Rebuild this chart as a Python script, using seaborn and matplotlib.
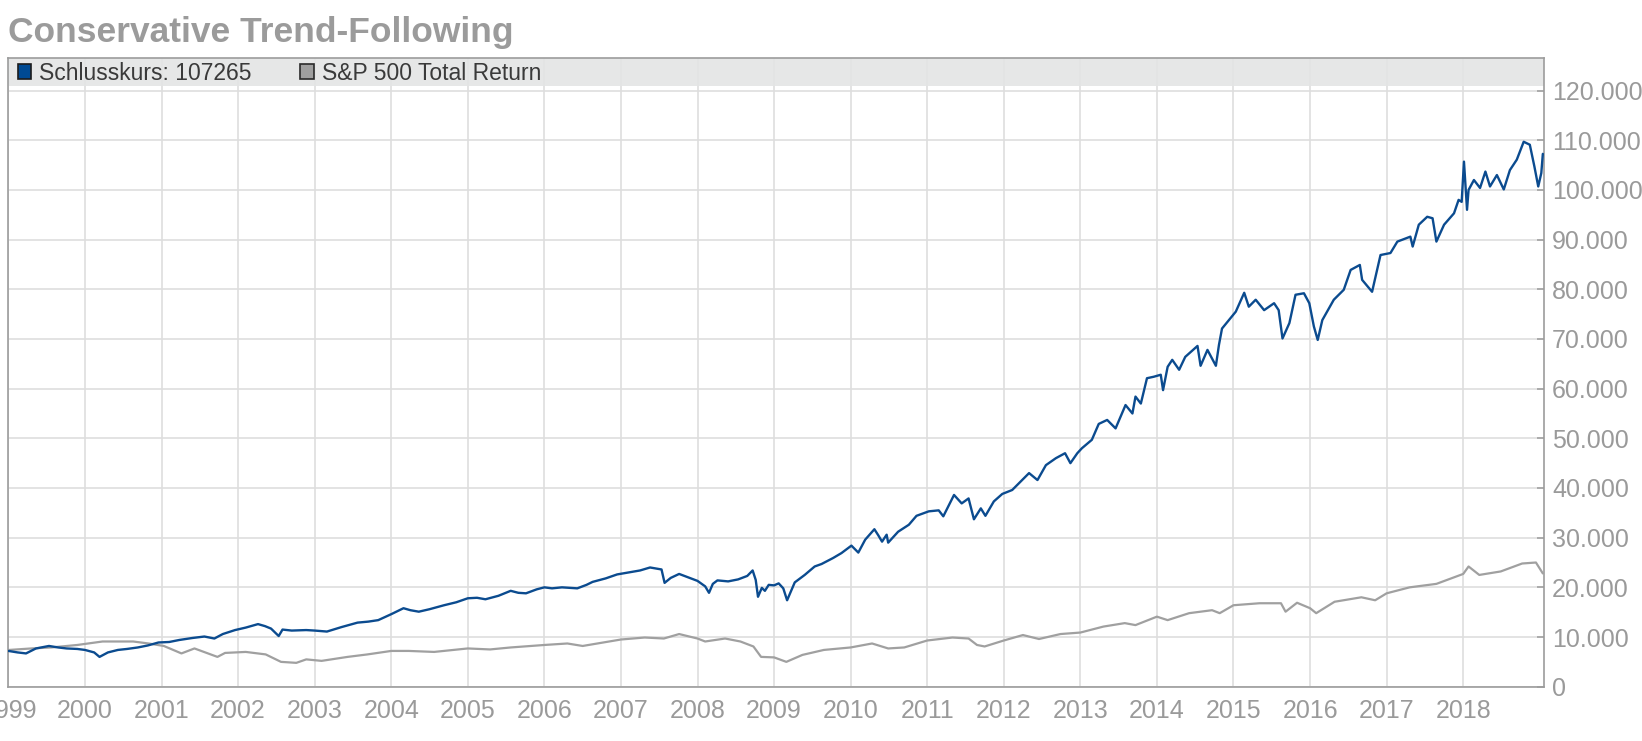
import matplotlib
matplotlib.use("Agg")
import matplotlib.pyplot as plt
import matplotlib.patches as mpatches
from matplotlib.ticker import FuncFormatter, FixedLocator
import seaborn as sns
import pandas as pd

# ---------------- data (values in thousands, x in decimal years) ----------------
blue_x = [1999.00, 1999.12, 1999.23, 1999.36, 1999.53, 1999.65, 1999.76, 1999.90,
          2000.00, 2000.12, 2000.19, 2000.30, 2000.43, 2000.55, 2000.69, 2000.82, 2000.96,
          2001.10, 2001.23, 2001.40, 2001.56, 2001.69, 2001.80, 2001.96,
          2002.10, 2002.26, 2002.35, 2002.43, 2002.53, 2002.58, 2002.70, 2002.89,
          2003.00, 2003.16, 2003.35, 2003.56, 2003.70, 2003.83,
          2004.00, 2004.16, 2004.25, 2004.36, 2004.50, 2004.69, 2004.85,
          2005.00, 2005.12, 2005.23, 2005.40, 2005.56, 2005.66, 2005.76, 2005.90,
          2006.00, 2006.10, 2006.23, 2006.43, 2006.55, 2006.63, 2006.80, 2006.95,
          2007.10, 2007.25, 2007.38, 2007.53, 2007.57, 2007.65, 2007.76, 2007.88,
          2008.00, 2008.10, 2008.15, 2008.20, 2008.26, 2008.40, 2008.53, 2008.65, 2008.72,
          2008.76, 2008.79, 2008.84, 2008.88, 2008.93,
          2009.00, 2009.06, 2009.12, 2009.17, 2009.27, 2009.40, 2009.53, 2009.62, 2009.77, 2009.88,
          2010.01, 2010.10, 2010.19, 2010.31, 2010.36, 2010.41, 2010.47, 2010.49, 2010.62, 2010.76, 2010.86,
          2011.02, 2011.15, 2011.21, 2011.35, 2011.45, 2011.54, 2011.61, 2011.70, 2011.76, 2011.87, 2011.98,
          2012.11, 2012.22, 2012.33, 2012.44, 2012.55, 2012.68, 2012.80, 2012.87, 2012.96,
          2013.02, 2013.15, 2013.24, 2013.35, 2013.46, 2013.59, 2013.68, 2013.72, 2013.79, 2013.87, 2013.96,
          2014.05, 2014.08, 2014.14, 2014.20, 2014.29, 2014.37, 2014.53, 2014.57, 2014.66, 2014.77,
          2014.81, 2014.85, 2014.94,
          2015.03, 2015.14, 2015.20, 2015.29, 2015.40, 2015.53, 2015.59, 2015.64, 2015.73, 2015.81,
          2015.92, 2015.99,
          2016.05, 2016.10, 2016.16, 2016.31, 2016.44, 2016.53, 2016.65, 2016.68, 2016.81, 2016.92,
          2017.05, 2017.14, 2017.31, 2017.34, 2017.42, 2017.53, 2017.60, 2017.65, 2017.75, 2017.88,
          2017.94, 2017.98,
          2018.01, 2018.05, 2018.07, 2018.14, 2018.22, 2018.29, 2018.35, 2018.44, 2018.53, 2018.61,
          2018.70, 2018.79, 2018.87, 2018.93, 2018.98, 2019.02, 2019.04]
blue_y = [7.2, 6.9, 6.7, 7.7, 8.2, 7.9, 7.7, 7.6,
          7.4, 6.9, 6.0, 6.9, 7.4, 7.6, 7.9, 8.3, 8.9,
          9.0, 9.4, 9.8, 10.1, 9.7, 10.6, 11.4,
          11.9, 12.6, 12.2, 11.7, 10.2, 11.5, 11.3, 11.4,
          11.3, 11.1, 12.0, 12.9, 13.1, 13.4,
          14.6, 15.8, 15.4, 15.1, 15.6, 16.4, 17.0,
          17.8, 17.9, 17.6, 18.3, 19.3, 18.9, 18.8, 19.6,
          20.0, 19.8, 20.0, 19.8, 20.5, 21.1, 21.8, 22.6,
          23.0, 23.4, 24.0, 23.6, 20.9, 21.9, 22.7, 22.0,
          21.3, 20.2, 18.9, 20.7, 21.4, 21.2, 21.6, 22.3, 23.4,
          21.5, 18.1, 19.9, 19.3, 20.5,
          20.4, 20.8, 19.8, 17.4, 21.0, 22.5, 24.2, 24.7, 25.9, 26.9,
          28.4, 27.0, 29.6, 31.7, 30.5, 29.2, 30.6, 29.0, 31.2, 32.6, 34.4,
          35.3, 35.5, 34.3, 38.6, 36.9, 37.9, 33.7, 35.9, 34.4, 37.3, 38.8,
          39.6, 41.3, 43.0, 41.6, 44.6, 46.0, 47.0, 45.0, 47.0,
          48.0, 49.7, 52.9, 53.7, 52.0, 56.7, 55.0, 58.4, 57.0, 62.1, 62.4,
          62.8, 59.7, 64.4, 65.8, 63.8, 66.4, 68.6, 64.6, 67.8, 64.6,
          68.8, 72.1, 73.8,
          75.5, 79.3, 76.5, 77.9, 75.8, 77.2, 75.8, 70.1, 73.2, 78.9,
          79.2, 77.2,
          72.5, 69.8, 73.8, 77.9, 79.9, 83.9, 84.9, 81.9, 79.5, 86.9,
          87.3, 89.6, 90.6, 88.6, 93.0, 94.6, 94.3, 89.6, 93.0, 95.3,
          98.0, 97.6,
          105.7, 96.0, 100.0, 102.0, 100.4, 103.7, 100.7, 103.0, 100.1, 104.0,
          106.1, 109.7, 109.1, 104.7, 100.7, 103.4, 107.265]

gray_x = [1999.01, 1999.30, 1999.56, 1999.90, 2000.23, 2000.63, 2000.83, 2001.03, 2001.26, 2001.43,
          2001.73, 2001.83, 2002.10, 2002.36, 2002.56, 2002.76, 2002.89, 2003.09, 2003.43, 2003.69,
          2004.00, 2004.23, 2004.56, 2005.00, 2005.29, 2005.56, 2006.00, 2006.30, 2006.50, 2007.00,
          2007.31, 2007.56, 2007.76, 2008.00, 2008.10, 2008.36, 2008.56, 2008.73, 2008.83, 2009.00,
          2009.16, 2009.37, 2009.65, 2010.00, 2010.28, 2010.49, 2010.70, 2011.00, 2011.33, 2011.54,
          2011.65, 2011.75, 2012.00, 2012.25, 2012.46, 2012.74, 2013.00, 2013.30, 2013.58, 2013.72,
          2014.00, 2014.14, 2014.42, 2014.72, 2014.82, 2015.00, 2015.34, 2015.62, 2015.68, 2015.83,
          2016.00, 2016.08, 2016.32, 2016.67, 2016.85, 2017.00, 2017.30, 2017.65, 2018.00, 2018.07,
          2018.21, 2018.49, 2018.77, 2018.95, 2019.04]
gray_y = [7.4, 7.7, 7.9, 8.4, 9.1, 9.1, 8.7, 8.2, 6.7, 7.7,
          6.0, 6.8, 7.0, 6.5, 5.0, 4.8, 5.5, 5.2, 6.0, 6.5,
          7.2, 7.2, 7.0, 7.7, 7.5, 7.9, 8.4, 8.7, 8.2, 9.5,
          9.9, 9.7, 10.6, 9.7, 9.1, 9.7, 9.1, 8.1, 6.0, 5.9,
          5.0, 6.4, 7.4, 7.9, 8.7, 7.7, 7.9, 9.3, 9.9, 9.7,
          8.4, 8.1, 9.3, 10.4, 9.6, 10.6, 10.9, 12.1, 12.8, 12.4,
          14.1, 13.4, 14.8, 15.4, 14.8, 16.4, 16.8, 16.8, 15.1, 16.9,
          15.8, 14.8, 17.1, 18.0, 17.4, 18.8, 20.0, 20.7, 22.7, 24.2,
          22.5, 23.2, 24.8, 25.0, 22.8]

series_names = ["Schlusskurs", "S&P 500 Total Return"]
year_ticks = list(range(1999, 2019))
value_ticks = list(range(0, 120001, 10000))

blue_c = "#0b4b8f"
gray_c = "#a0a0a0"
text_gray = "#9a9a9a"

df = pd.concat([
    pd.DataFrame({"x": blue_x, "y": [v * 1000 for v in blue_y], "series": series_names[0]}),
    pd.DataFrame({"x": gray_x, "y": [v * 1000 for v in gray_y], "series": series_names[1]}),
], ignore_index=True)

# ---------------- figure ----------------
sns.set_style("white")
plt.rcParams["font.family"] = ["Liberation Sans", "DejaVu Sans"]

fig = plt.figure(figsize=(16.42, 7.41), dpi=100)
ax = fig.add_axes([8.4 / 1642, 1 - 686.7 / 741, (1543.6 - 8.4) / 1642, (686.7 - 58.3) / 741])

sns.lineplot(data=df[df.series == series_names[1]], x="x", y="y", color=gray_c,
             lw=1.6, estimator=None, sort=False, ax=ax, legend=False, zorder=3)
sns.lineplot(data=df[df.series == series_names[0]], x="x", y="y", color=blue_c,
             lw=1.7, estimator=None, sort=False, ax=ax, legend=False, zorder=4)

ax.set_xlim(1999.0, 2019.05)
ax.set_ylim(0, 126500)
ax.xaxis.set_major_locator(FixedLocator(year_ticks))
ax.set_xticklabels([str(y) for y in year_ticks])
ax.yaxis.set_major_locator(FixedLocator(value_ticks))
ax.yaxis.set_major_formatter(FuncFormatter(lambda v, p: f"{int(v):,}".replace(",", ".")))
ax.yaxis.tick_right()
ax.set_xlabel("")
ax.set_ylabel("")

ax.grid(True, color="#dedede", lw=1.2, zorder=0)
ax.set_axisbelow(True)
for s in ax.spines.values():
    s.set_color("#9c9c9c")
    s.set_linewidth(1.2)

ax.tick_params(axis="y", which="both", direction="in", length=5, width=1.1, color="#9c9c9c",
               labelcolor=text_gray, labelsize=18, pad=6, right=True, left=False)
ax.tick_params(axis="x", length=0, labelcolor=text_gray, labelsize=18, pad=9)

# legend band
ax.axhspan(121000, 126500, color="#e4e5e5", alpha=0.92, zorder=2, lw=0)

handles = [mpatches.Patch(facecolor="#004a93", edgecolor="#1c1c1c", lw=1.2),
           mpatches.Patch(facecolor="#9f9f9f", edgecolor="#2a2a2a", lw=1.2)]
labels = [f"{series_names[0]}: {int(round(blue_y[-1] * 1000))}", series_names[1]]
leg = ax.legend(handles, labels, loc="center left", bbox_to_anchor=(0.006, 0.9766),
                ncol=2, frameon=False, fontsize=16.5, handlelength=0.6, handleheight=0.6,
                handletextpad=0.35, columnspacing=2.1, borderpad=0, borderaxespad=0)
for t in leg.get_texts():
    t.set_color("#3a3a3a")

fig.text(8 / 1642, 1 - 42 / 741, "Conservative Trend-Following", fontsize=25.5,
         fontweight="bold", color="#9b9b9b", ha="left", va="baseline")

fig.savefig("out.png", dpi=100, facecolor="white")
